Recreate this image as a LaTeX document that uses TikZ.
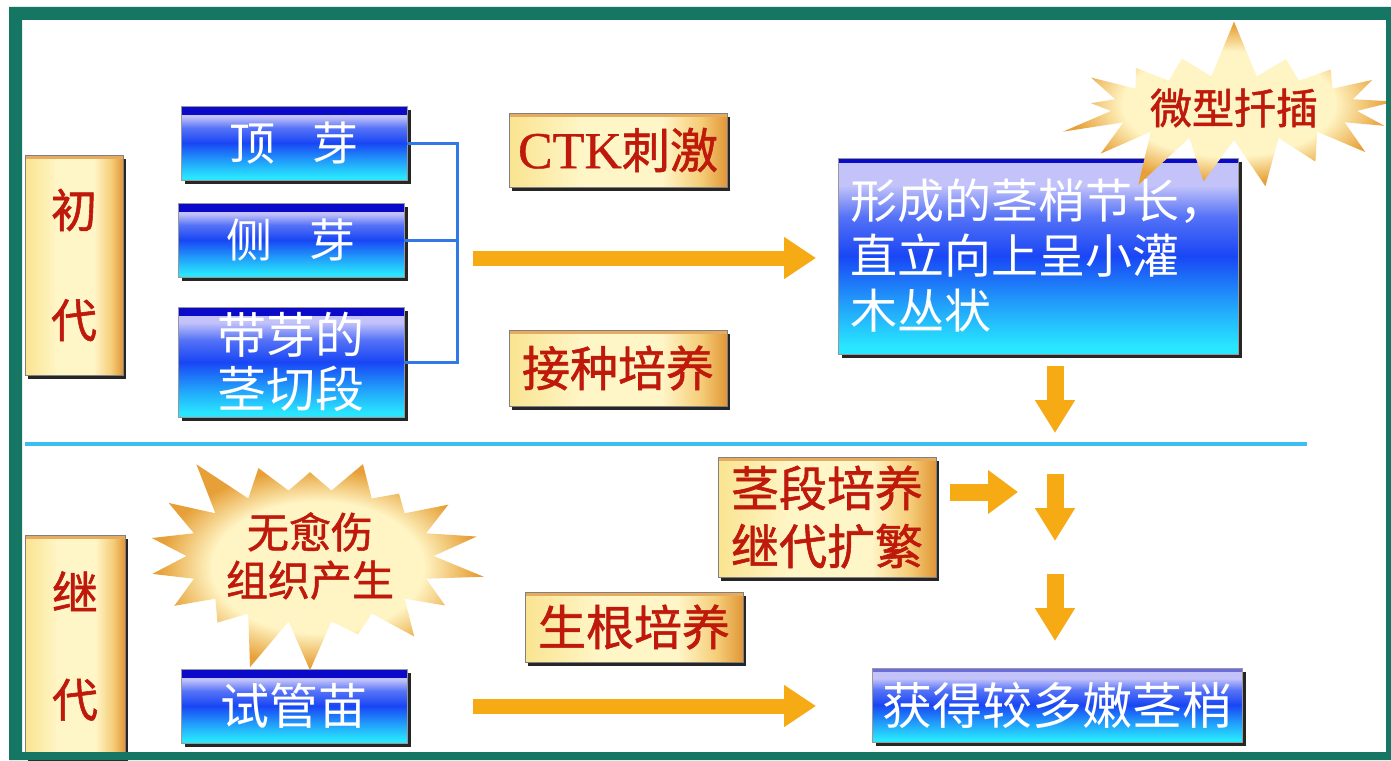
\documentclass[tikz,border=0pt]{standalone}
\usepackage{fontspec}
\setmainfont{Liberation Serif}
\newfontfamily\cjk{Noto Sans CJK SC}
\newfontfamily\cjkm{Noto Sans CJK SC}[FakeBold=1.2]
\newfontfamily\serm{Liberation Serif}[FakeBold=0.6]
\usetikzlibrary{shapes.symbols,arrows.meta,shadows}
\definecolor{teal1}{RGB}{22,118,100}
\definecolor{navy1}{RGB}{10,10,200}
\definecolor{lav}{RGB}{195,195,250}
\definecolor{blu}{RGB}{25,70,245}
\definecolor{cya}{RGB}{40,230,255}
\definecolor{g1}{RGB}{250,228,145}
\definecolor{g2}{RGB}{255,246,200}
\definecolor{g3}{RGB}{245,205,120}
\definecolor{g4}{RGB}{225,150,55}
\definecolor{redt}{RGB}{190,25,10}
\definecolor{arr}{RGB}{246,170,20}
\definecolor{brk}{RGB}{50,120,230}
\definecolor{divl}{RGB}{60,190,240}
\definecolor{stin}{RGB}{255,244,195}
\definecolor{stout}{RGB}{230,160,55}
\pgfdeclareverticalshading{bluegloss}{100bp}{color(0bp)=(cya); color(27bp)=(cya); color(38bp)=(cya!55!blu); color(50bp)=(blu); color(60bp)=(blu!65!lav); color(68bp)=(lav); color(100bp)=(lav)}
\pgfdeclarehorizontalshading{goldsh}{100bp}{color(0bp)=(g1); color(25bp)=(g1); color(42bp)=(g2); color(60bp)=(g2); color(69bp)=(g3); color(75bp)=(g4); color(100bp)=(g4)}
\pgfdeclareradialshading{burstsh}{\pgfpoint{0bp}{0bp}}{color(0bp)=(stin); color(16bp)=(stin); color(24bp)=(stout); color(50bp)=(stout)}
\tikzset{
  bluebox/.style={shading=bluegloss, draw=black!40, line width=0.6pt,
    font=\cjk\fontsize{46}{52}\selectfont, text=white, align=center, inner sep=0pt,
    drop shadow={shadow xshift=4pt, shadow yshift=-4pt, fill=black!85, opacity=1},
    path picture={\fill[navy1] (path picture bounding box.north west) rectangle ([yshift=-9pt]path picture bounding box.north east);}},
  bigbox/.style={bluebox, path picture={\fill[navy1] (path picture bounding box.north west) rectangle ([yshift=-5pt]path picture bounding box.north east);}},
  goldbox/.style={shading=goldsh, draw=black!50, line width=0.6pt,
    font=\cjkm\fontsize{48}{56}\selectfont, text=redt, align=center, inner sep=0pt,
    drop shadow={shadow xshift=3pt, shadow yshift=-4pt, fill=black!85, opacity=1},
    path picture={\fill[g4!80] (path picture bounding box.north west) rectangle ([yshift=-4pt]path picture bounding box.north east);}},
  burst/.style={starburst, shading=burstsh, draw=none,
    font=\cjkm\fontsize{42}{48}\selectfont, text=redt, align=center},
  fatarrow/.style={draw=arr, line width=15pt, -{Triangle[length=32pt,width=40pt]}},
  downarrow/.style={draw=arr, line width=17pt, -{Triangle[length=33pt,width=38pt]}},
  bracketline/.style={draw=brk, line width=3pt},
}
\begin{document}
\begin{tikzpicture}[x=1pt,y=-1pt]
\useasboundingbox (0,0) rectangle (1391,760);
\fill[white] (0,0) rectangle (1391,760);
% left labels
\node[goldbox, minimum width=98pt, minimum height=220pt, font=\cjkm\fontsize{46}{110}\selectfont] (chu) at (74,265) {初\\代};
\node[goldbox, minimum width=100pt, minimum height=222pt, font=\cjkm\fontsize{46}{107}\selectfont] (jidai) at (75,646) {继\\代};
% source boxes
\node[bluebox, minimum width=226pt, minimum height=74pt] (ding) at (294,143) {顶\hspace{0.8em}芽};
\node[bluebox, minimum width=226pt, minimum height=74pt] (ce) at (291,240) {侧\hspace{0.8em}芽};
\node[bluebox, minimum width=226pt, minimum height=110pt, font=\cjk\fontsize{49}{54}\selectfont] (dai) at (291,362) {带芽的\\茎切段};
% bracket
\coordinate (bk) at (457,143);
\draw[bracketline] (ding.east) -- (ding.east -| bk) -- (dai.east -| bk) -- (dai.east);
\draw[bracketline] (ce.east) -- (ce.east -| bk);
% labels on arrow
\node[goldbox, minimum width=218pt, minimum height=74pt] (ctk) at (618,150) {{\serm\fontsize{52}{52}\selectfont CTK}刺激};
\node[goldbox, minimum width=218pt, minimum height=76pt] (jz) at (618,368) {接种培养};
% big box
\node[bigbox, minimum width=400pt, minimum height=196pt, align=left, font=\cjk\fontsize{47}{55}\selectfont] (big) at (1038,256) {形成的茎梢节长，\\直立向上呈小灌\\木丛状\hphantom{上呈小灌}};
% main arrow
\coordinate (a1s) at (473,258);
\coordinate (a1e) at (816,258);
\draw[fatarrow] (a1s) -- (a1e);
% starburst 1
\node[burst, starburst points=17, starburst point height=60pt, random starburst=7, minimum width=300pt, minimum height=170pt] (st1) at (1234,108) {微型扦插};
% down arrow 1
\coordinate (d1s) at (1055,366);
\coordinate (d1e) at (1055,433);
\draw[downarrow] (d1s) -- (d1e);
% divider
\draw[divl, line width=4pt] (25,444) -- (1307,444);
% lower
\node[goldbox, minimum width=218pt, minimum height=120pt, font=\cjkm\fontsize{48}{58}\selectfont] (jd) at (827,517) {茎段培养\\继代扩繁};
\coordinate (r1s) at (950,492);
\coordinate (r1e) at (1018,492);
\draw[draw=arr, line width=17pt, -{Triangle[length=30pt,width=42pt]}] (r1s) -- (r1e);
\coordinate (d2s) at (1055,474);
\coordinate (d2e) at (1055,541);
\draw[downarrow] (d2s) -- (d2e);
\coordinate (d3s) at (1055,574);
\coordinate (d3e) at (1055,641);
\draw[downarrow] (d3s) -- (d3e);
\node[goldbox, minimum width=218pt, minimum height=70pt] (sg) at (634,627) {生根培养};
\node[burst, starburst points=18, starburst point height=55pt, random starburst=3, minimum width=296pt, minimum height=160pt, font=\cjkm\fontsize{42}{48}\selectfont] (st2) at (310,556) {无愈伤\\组织产生};
\node[bluebox, minimum width=226pt, minimum height=74pt, font=\cjk\fontsize{49}{52}\selectfont] (sgm) at (294,706) {试管苗};
\node[bluebox, minimum width=370pt, minimum height=74pt, font=\cjk\fontsize{50}{52}\selectfont, path picture={\fill[navy1!60] (path picture bounding box.north west) rectangle ([yshift=-4pt]path picture bounding box.north east);}] (hd) at (1057,705) {获得较多嫩茎梢};
\coordinate (a2s) at (473,706);
\coordinate (a2e) at (816,706);
\draw[fatarrow] (a2s) -- (a2e);
% frame
\fill[teal1, even odd rule] (9,7) rectangle (1391,760) (22,20) rectangle (1386,752);
\end{tikzpicture}
\end{document}
